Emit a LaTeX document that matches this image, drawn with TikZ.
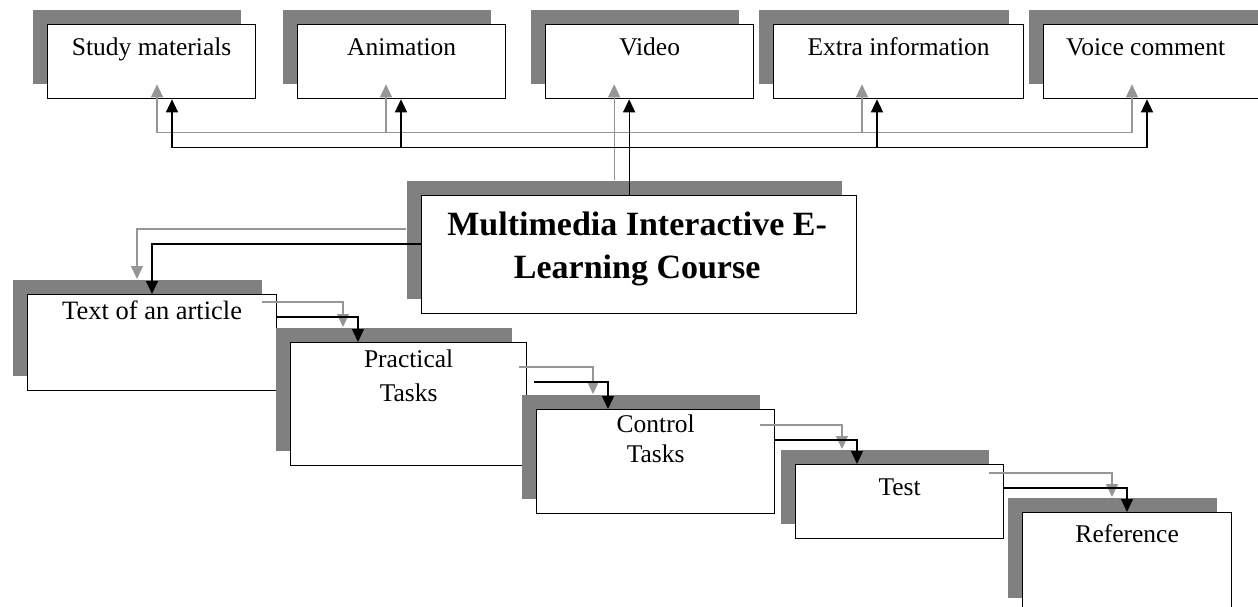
\documentclass[tikz,border=0pt]{standalone}
\usepackage{fontspec}
\setmainfont{Liberation Serif}
\usetikzlibrary{arrows.meta, shadows}

\definecolor{shadowgray}{RGB}{128,128,128}
\definecolor{linegray}{RGB}{150,150,150}

\tikzset{
  card/.style={draw=black, line width=1.3pt, fill=white, rectangle, inner sep=0pt, anchor=north west,
               general shadow={fill=shadowgray, shadow xshift=-15pt, shadow yshift=15pt}},
  lbl/.style={font=\fontsize{25.5}{30}\selectfont, anchor=base, inner sep=0pt},
  blink/.style={draw=black, line width=1.3pt, -{Triangle[length=13pt,width=12pt]}},
  glink/.style={draw=linegray, line width=1.3pt, -{Triangle[length=13pt,width=12pt]},
                transform canvas={xshift=-15pt,yshift=15pt}}
}

\begin{document}
\begin{tikzpicture}[x=1pt, y=-1pt]
  \useasboundingbox (0,0) rectangle (1258,607);

  \node [card, minimum width=208pt, minimum height=74pt] (study) at (47,24) {};
  \node [card, minimum width=208pt, minimum height=74pt] (anim) at (297,24) {};
  \node [card, minimum width=208pt, minimum height=74pt] (video) at (545,24) {};
  \node [card, minimum width=250pt, minimum height=74pt] (extra) at (773,24) {};
  \node [card, minimum width=240pt, minimum height=74pt] (voice) at (1043,24) {};
  \node [card, minimum width=435pt, minimum height=118pt] (main) at (421,195) {};
  \node [card, minimum width=249pt, minimum height=96pt] (text) at (27,294) {};
  \node [card, minimum width=236pt, minimum height=123pt] (prac) at (290,342) {};
  \node [card, minimum width=238pt, minimum height=104pt] (ctrl) at (536,409) {};
  \node [card, minimum width=208pt, minimum height=74pt] (test) at (795,464) {};
  \node [card, minimum width=209pt, minimum height=100pt] (ref) at (1022,512) {};

  \node [lbl] (study-l) at ([yshift=-32pt]study.north) {Study materials};
  \node [lbl] (anim-l) at ([yshift=-32pt]anim.north) {Animation};
  \node [lbl] (video-l) at ([yshift=-32pt]video.north) {Video};
  \node [lbl] (extra-l) at ([yshift=-32pt]extra.north) {Extra information};
  \node [lbl] (voice-l) at ([yshift=-32pt,xshift=-18pt]voice.north) {Voice comment};
  \node [lbl, font=\bfseries\fontsize{34}{43}\selectfont, align=center] (main-l)
        at ([yshift=-83pt,xshift=-2pt]main.north) {Multimedia Interactive E-\\Learning Course};
  \node [lbl, font=\fontsize{26.5}{30}\selectfont] (text-l) at ([yshift=-25pt]text.north) {Text of an article};
  \node [lbl, align=center, font=\fontsize{25.5}{34}\selectfont] (prac-l) at ([yshift=-59pt]prac.north) {Practical\\Tasks};
  \node [lbl, align=center, font=\fontsize{25.5}{30}\selectfont] (ctrl-l) at ([yshift=-53pt]ctrl.north) {Control\\Tasks};
  \node [lbl] (test-l) at ([yshift=-31pt]test.north) {Test};
  \node [lbl] (ref-l) at ([yshift=-30pt]ref.north) {Reference};

  \coordinate (m1) at ([xshift=-10pt]main.north);
  \coordinate (bus) at ([yshift=-48pt]video.south);

  \foreach \sty in {glink,blink} {
    \draw [\sty] (m1) -- (m1 |- video.south);
    \foreach \b/\dx in {study/125,anim/104,extra/104,voice/104}
      \draw [\sty] (m1 |- bus) -| ([xshift=\dx pt]\b.south west);
    \draw [\sty] ([yshift=-49pt]main.north west) -| ([xshift=125pt]text.north west);
    \draw [\sty] ([yshift=-23pt]text.north east) -| ([xshift=68pt]prac.north west);
    \draw [\sty] ([xshift=7pt,yshift=-40pt]prac.north east) -| ([xshift=72pt]ctrl.north west);
    \draw [\sty] ([yshift=-31pt]ctrl.north east) -| ([xshift=62pt]test.north west);
    \draw [\sty] ([yshift=-24pt]test.north east) -| ([xshift=105pt]ref.north west);
  }
\end{tikzpicture}
\end{document}
